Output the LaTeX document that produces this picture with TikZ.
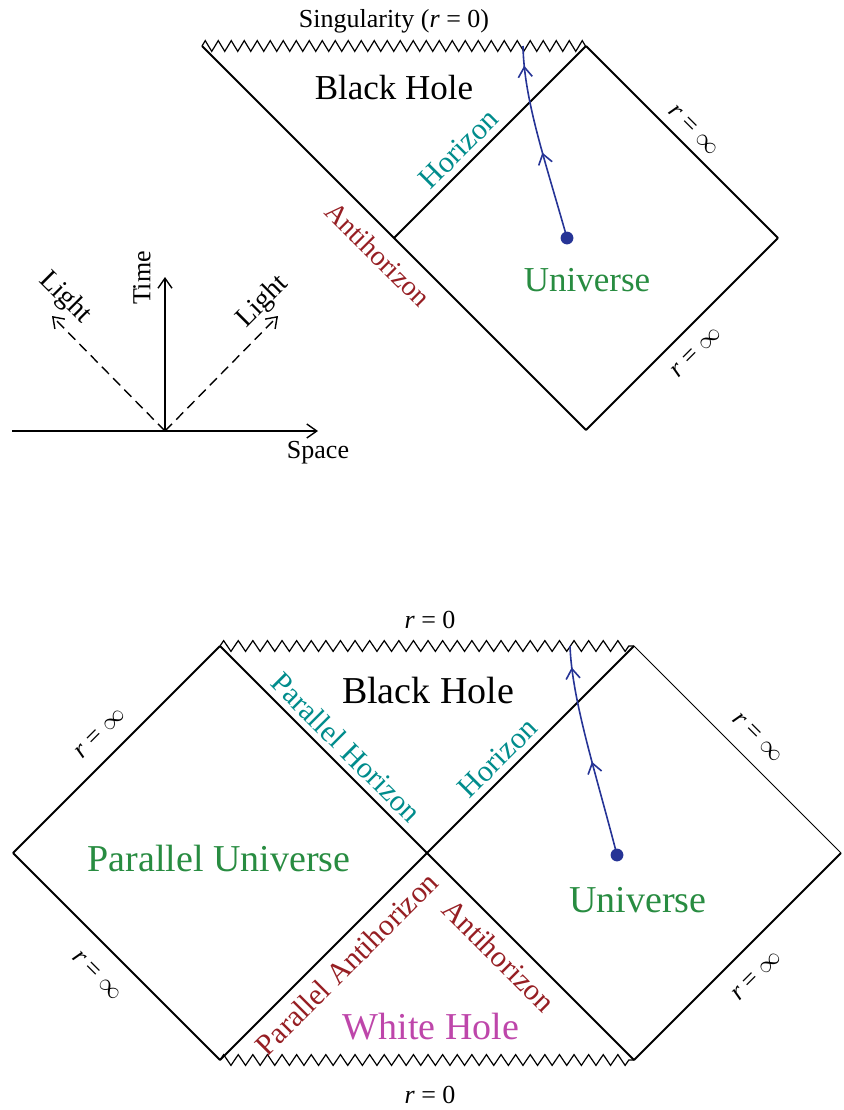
\documentclass[tikz,border=0pt]{standalone}
\usepackage{fontspec}
\setmainfont{Liberation Serif}
\usetikzlibrary{arrows.meta,decorations.pathmorphing,decorations.markings}

\definecolor{wlblue}{RGB}{38,52,150}
\definecolor{horcol}{RGB}{0,140,140}
\definecolor{anticol}{RGB}{150,30,35}
\definecolor{univcol}{RGB}{40,140,65}
\definecolor{whitecol}{RGB}{190,70,170}

\begin{document}
\begin{tikzpicture}[x=0.5pt, y=-0.5pt,
  edge/.style={line width=1pt},
  thinedge/.style={line width=0.5pt},
  sing/.style={line width=0.6pt, decorate, decoration={zigzag, segment length=6.5pt, amplitude=2.7pt}},
  axis/.style={line width=0.7pt, -{Straight Barb[length=5pt, width=7pt]}},
  ray/.style={axis, dash pattern=on 5pt off 3pt},
  worldline/.style={draw=wlblue, line width=0.8pt, postaction={decorate},
    decoration={markings,
      mark=at position 0.45 with {\arrow{Straight Barb[length=5pt, width=7pt]}},
      mark=at position 0.9 with {\arrow{Straight Barb[length=5pt, width=7pt]}}}},
  region/.style={font=\fontsize{17.5}{20}\selectfont},
  bigregion/.style={font=\fontsize{19}{22}\selectfont},
  horlabel/.style={font=\fontsize{15}{17}\selectfont, text=horcol, sloped, inner sep=1pt},
  antilabel/.style={font=\fontsize{15}{17}\selectfont, text=anticol, sloped, inner sep=1pt},
  rlabel/.style={font=\fontsize{13}{15}\selectfont, sloped, inner sep=1pt},
  small/.style={font=\fontsize{13}{15}\selectfont, inner sep=1pt}]
\useasboundingbox (0,0) rectangle (843,1110);

% one-sided diagram
\coordinate (bhleft) at (202,46);
\coordinate (top) at (586,46);
\coordinate (left) at (394,238);
\coordinate (right) at (778,238);
\coordinate (bottom) at (586,430);
\coordinate (dot) at (567,238);
\coordinate (crunch) at (523,46);

\draw[sing] (bhleft) -- (top);
\draw[edge] (bhleft) -- node[antilabel, below=5pt, pos=0.5, font=\fontsize{14}{16}\selectfont] (antihlbl) {Antihorizon} (bottom);
\draw[edge] (left) -- node[horlabel, above=2pt, pos=0.4] (horlbl) {Horizon} (top);
\draw[edge] (top) -- node[rlabel, above=4pt, pos=0.5] (rtoplbl) {\textit{r} = $\infty$} (right);
\draw[edge] (bottom) -- node[rlabel, below=7pt, pos=0.49] (rbotlbl) {\textit{r} = $\infty$} (right);

\node[small] (singlbl) at (394,21) {Singularity (\textit{r} = 0)};
\node[region] (blackhole) at (394,88) {Black Hole};
\node[region, text=univcol] (universe) at (587,280) {Universe};

\draw[worldline] (dot) .. controls (545,160) and (524,100) .. (crunch);
\fill[wlblue] (dot) circle (3.2pt);

% light cone
\coordinate (origin) at (165,431);
\coordinate (spacestart) at (12,431);
\coordinate (spaceend) at (318,431);
\coordinate (timeend) at (165,277);
\coordinate (lightleft) at (52,316);
\coordinate (lightright) at (278,316);

\draw[axis] (spacestart) -- (spaceend);
\draw[axis] (origin) -- (timeend);
\draw[ray] (origin) -- (lightleft);
\draw[ray] (origin) -- (lightright);
\node[small] (spacelbl) at (318,453) {Space};
\node[small, rotate=90] (timelbl) at (142,278) {Time};
\node[small, rotate=-45, font=\fontsize{14}{16}\selectfont] (lightllbl) at (65,298) {Light};
\node[small, rotate=45, font=\fontsize{14}{16}\selectfont] (lightrlbl) at (263,302) {Light};

% two-sided diagram
\coordinate (pl) at (13,853);
\coordinate (pt) at (220,646);
\coordinate (c) at (427,853);
\coordinate (ut) at (634,646);
\coordinate (ur) at (841,853);
\coordinate (pb) at (220,1060);
\coordinate (ub) at (634,1060);
\coordinate (dot2) at (617,855);
\coordinate (crunch2) at (570,646);

\draw[sing, decoration={segment length=7.3pt}] (pt) -- (ut);
\draw[sing, decoration={segment length=7.3pt}] (pb) -- (ub);
\draw[edge] (pl) -- node[rlabel, above=7pt, pos=0.5] (plulbl) {\textit{r} = $\infty$} (pt);
\draw[edge] (pt) -- node[horlabel, above=2pt, pos=0.55] (phorlbl) {Parallel Horizon} (c);
\draw[edge] (c) -- node[horlabel, above=2pt, pos=0.4] (hor2lbl) {Horizon} (ut);
\draw[thinedge] (ut) -- node[rlabel, above=7pt, pos=0.52] (urulbl) {\textit{r} = $\infty$} (ur);
\draw[edge] (pl) -- node[rlabel, below=9pt, pos=0.5] (pldlbl) {\textit{r} = $\infty$} (pb);
\draw[edge] (pb) -- node[antilabel, below=4pt, pos=0.54] (pantilbl) {Parallel Antihorizon} (c);
\draw[edge] (c) -- node[antilabel, below=4pt, pos=0.42] (anti2lbl) {Antihorizon} (ub);
\draw[edge] (ub) -- node[rlabel, below=9pt, pos=0.5] (urdlbl) {\textit{r} = $\infty$} (ur);

\node[small] (r0top) at (430,620) {\textit{r} = 0};
\node[small] (r0bot) at (430,1095) {\textit{r} = 0};
\node[bigregion] (blackhole2) at (428,690) {Black Hole};
\node[bigregion, text=univcol] (paruniverse) at (219,858) {Parallel Universe};
\node[bigregion, text=univcol] (universe2) at (638,900) {Universe};
\node[bigregion, text=whitecol] (whitehole) at (431,1027) {White Hole};

\draw[worldline] (dot2) .. controls (595,770) and (572,700) .. (crunch2);
\fill[wlblue] (dot2) circle (3.2pt);
\end{tikzpicture}
\end{document}
